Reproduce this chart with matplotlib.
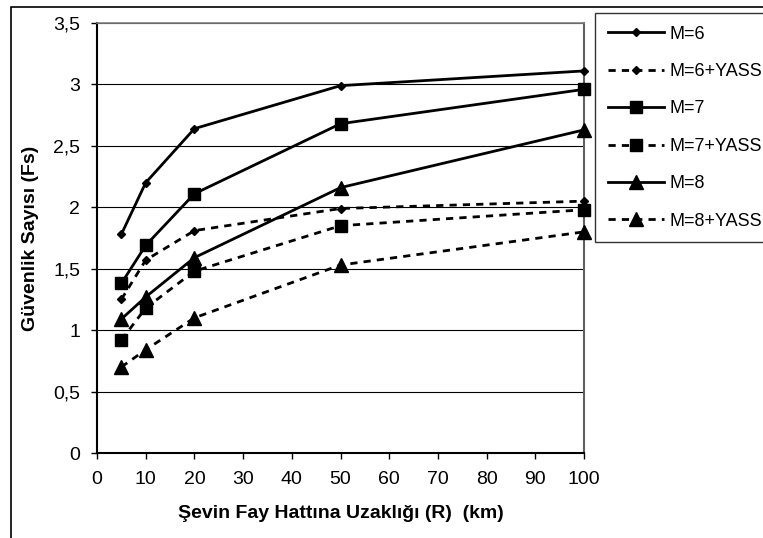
import numpy as np
import matplotlib
matplotlib.use("Agg")
import matplotlib.pyplot as plt
from matplotlib.patches import Rectangle
from matplotlib.ticker import FuncFormatter

plt.rcParams['font.family'] = ['Liberation Sans', 'DejaVu Sans']

########### Data ###############

R = [5, 10, 20, 50, 100]
M6 = [1.78, 2.20, 2.64, 2.99, 3.11]
M6_yass = [1.25, 1.57, 1.81, 1.99, 2.05]
M7 = [1.38, 1.69, 2.11, 2.68, 2.96]
M7_yass = [0.92, 1.18, 1.48, 1.85, 1.98]
M8 = [1.09, 1.27, 1.59, 2.16, 2.63]
M8_yass = [0.70, 0.84, 1.10, 1.53, 1.80]

labels = ['M=6', 'M=6+YASS', 'M=7', 'M=7+YASS', 'M=8', 'M=8+YASS']
xticks = [0, 10, 20, 30, 40, 50, 60, 70, 80, 90, 100]
yticks = [0, 0.5, 1, 1.5, 2, 2.5, 3, 3.5]

########### Plot ###############

fig = plt.figure(figsize=(7.63, 5.38), dpi=100)
ax = fig.add_axes([97/763, 1-453/538, (584-97)/763, (453-23)/538])

dash = (0, (2.6, 2.2))
series = [M6, M6_yass, M7, M7_yass, M8, M8_yass]
styles = ['-', dash, '-', dash, '-', dash]
markers = ['D', 'D', 's', 's', '^', '^']
msizes = [4.5, 4.5, 9, 9, 9.5, 9.5]

for y, ls, mk, ms, lab in zip(series, styles, markers, msizes, labels):
    ax.plot(R, y, color='black', linestyle=ls, lw=2.0, marker=mk, markersize=ms,
            label=lab, clip_on=False, zorder=3)

ax.set_xlim(0, 100)
ax.set_ylim(0, 3.5)
ax.set_xticks(xticks)
ax.set_yticks(yticks)
ax.yaxis.set_major_formatter(FuncFormatter(lambda v, p: ('%g' % v).replace('.', ',')))
ax.grid(axis='y', color='black', lw=0.8)
ax.set_axisbelow(True)
ax.tick_params(labelsize=14, direction='out', length=4, color='black', width=1)
ax.tick_params(axis='x', pad=9)
ax.tick_params(axis='y', pad=8)

ax.spines['left'].set_linewidth(1.5)
ax.spines['bottom'].set_linewidth(1.5)
ax.spines['top'].set_color('#808080')
ax.spines['right'].set_color('#606060')
ax.spines['top'].set_linewidth(1.2)
ax.spines['right'].set_linewidth(1.5)

ax.set_xlabel('Şevin Fay Hattına Uzaklığı (R)  (km)', fontsize=14, fontweight='bold', labelpad=12)
ax.set_ylabel('Güvenlik Sayısı (Fs)', fontsize=14, fontweight='bold', labelpad=10)

leg = fig.legend(loc='upper left', bbox_to_anchor=(595/763, 1-13/538), fontsize=13,
                 frameon=True, fancybox=False, edgecolor='black', handlelength=3.1,
                 labelspacing=1.13, borderpad=0.7, handletextpad=0.3, borderaxespad=0)
leg.get_frame().set_linewidth(1.0)

# outer chart border (cropped)
fig.patches.append(Rectangle((11/763, -0.2), 2.0, 1.2 - 7/538, transform=fig.transFigure,
                             fill=False, edgecolor='black', lw=1.2))

plt.savefig('out.png', dpi=100)
